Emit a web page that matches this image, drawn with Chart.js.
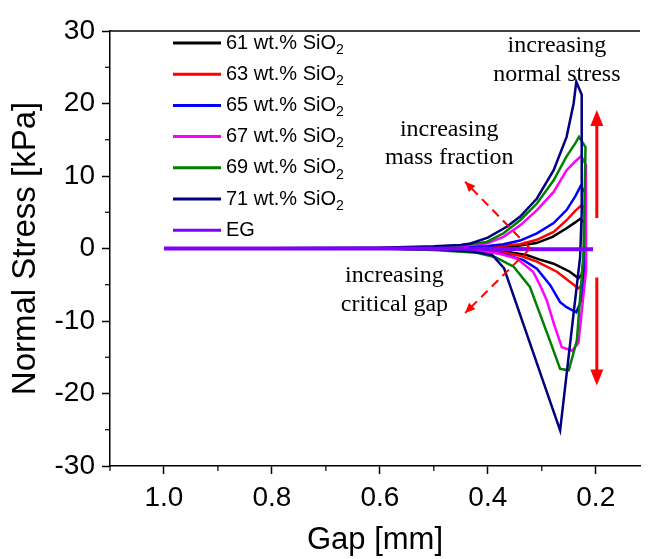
<!DOCTYPE html>
<html>
<head>
<meta charset="utf-8">
<script src="https://cdn.jsdelivr.net/npm/chart.js@4.4.1/dist/chart.umd.min.js"></script>
<style>
    html, body { margin: 0; padding: 0; background: #fff; }
    #wrap { width: 648px; height: 559px; position: relative; }
</style>
</head>
<body>
<div id="wrap"><canvas id="stressChart"></canvas></div>
<script>
// gap [mm] / normal stress [kPa], each curve goes in (gap shrinking) and back out
var gap61 = [1.0, 0.8, 0.6, 0.5, 0.45, 0.4, 0.37, 0.34, 0.31, 0.28, 0.254, 0.238, 0.229, 0.222, 0.222, 0.226, 0.232, 0.248, 0.278, 0.305, 0.328, 0.36, 0.4, 0.5, 0.6];
var stress61 = [0, 0, 0.02, 0.05, 0.1, 0.18, 0.25, 0.4, 0.75, 1.6, 2.8, 3.6, 4.1, 3.6, -1.5, -3.6, -4.1, -3.2, -2.1, -1.5, -0.9, -0.5, -0.25, -0.08, 0];

var gap63 = [1.0, 0.8, 0.6, 0.5, 0.45, 0.4, 0.37, 0.34, 0.309, 0.278, 0.254, 0.238, 0.226, 0.22, 0.22, 0.226, 0.232, 0.248, 0.272, 0.309, 0.34, 0.37, 0.4, 0.5, 0.6];
var stress63 = [0, 0, 0.03, 0.08, 0.15, 0.25, 0.4, 0.6, 1.2, 2.3, 3.9, 5.2, 6.0, 5.4, -2, -5, -5.5, -4.6, -3.2, -1.8, -1.0, -0.6, -0.3, -0.1, 0];

var gap65 = [1.0, 0.8, 0.6, 0.5, 0.45, 0.4, 0.371, 0.34, 0.309, 0.278, 0.254, 0.238, 0.228, 0.22, 0.22, 0.226, 0.236, 0.254, 0.266, 0.284, 0.309, 0.334, 0.37, 0.4, 0.5, 0.6];
var stress65 = [0, 0, 0.04, 0.1, 0.2, 0.35, 0.6, 1.1, 2.1, 3.5, 5.3, 7.2, 8.6, 7.8, -2, -7, -8.8, -8.1, -7.4, -5.1, -2.8, -1.6, -0.8, -0.4, -0.1, 0];

var gap67 = [1.0, 0.8, 0.6, 0.5, 0.45, 0.402, 0.371, 0.34, 0.309, 0.278, 0.254, 0.238, 0.227, 0.218, 0.218, 0.232, 0.244, 0.263, 0.277, 0.291, 0.303, 0.316, 0.346, 0.38, 0.42, 0.5, 0.6];
var stress67 = [0, 0, 0.05, 0.15, 0.35, 0.7, 1.6, 3.2, 5.3, 7.8, 10.8, 12.0, 12.75, 11.5, -3, -13, -14.1, -13.6, -10.5, -7.1, -5.1, -3.2, -1.4, -0.7, -0.3, -0.1, 0];

var gap69 = [1.0, 0.8, 0.6, 0.5, 0.45, 0.402, 0.371, 0.34, 0.309, 0.278, 0.254, 0.238, 0.231, 0.219, 0.222, 0.235, 0.25, 0.266, 0.285, 0.322, 0.352, 0.386, 0.42, 0.5, 0.6];
var stress69 = [0, 0.02, 0.08, 0.2, 0.45, 0.9, 2.1, 3.9, 6.2, 9.4, 12.7, 14.5, 15.4, 14.0, 0, -12.7, -16.8, -16.6, -12.7, -5.3, -2.5, -1.2, -0.6, -0.2, 0];

var gap71 = [1.0, 0.8, 0.6, 0.5, 0.45, 0.432, 0.4, 0.365, 0.34, 0.309, 0.278, 0.254, 0.241, 0.236, 0.226, 0.226, 0.229, 0.266, 0.37, 0.392, 0.408, 0.43, 0.5, 0.6];
var stress71 = [0, 0.02, 0.1, 0.3, 0.5, 0.7, 1.5, 3.0, 4.4, 6.9, 10.8, 15.4, 20.0, 23.0, 21.2, 5, -1.2, -25.1, -2.7, -0.9, -0.7, -0.4, -0.1, 0];

var gapEG = [1.0, 0.8, 0.6, 0.4, 0.3, 0.205];
var stressEG = [0, 0, 0, -0.05, -0.1, -0.1];

var seriesLabels = ['61 wt.% SiO', '63 wt.% SiO', '65 wt.% SiO', '67 wt.% SiO', '69 wt.% SiO', '71 wt.% SiO', 'EG'];
var seriesColors = ['#000000', '#ff0000', '#0000ff', '#ff00ff', '#008000', '#000080', '#7f00ff'];

var xTicks = [1.0, 0.8, 0.6, 0.4, 0.2];
var xMinorTicks = [1.1, 0.9, 0.7, 0.5, 0.3];
var yTicks = [-30, -20, -10, 0, 10, 20, 30];
var yMinorTicks = [-25, -15, -5, 5, 15, 25];

var SANS = "'Liberation Sans', Arial, sans-serif";
var SERIF = "'Liberation Serif', 'Times New Roman', serif";

function toPoints(xs, ys) {
    var pts = [];
    for (var i = 0; i < xs.length; i++) {
        pts.push({ x: xs[i], y: ys[i] });
    }
    return pts;
}

var allGaps = [gap61, gap63, gap65, gap67, gap69, gap71, gapEG];
var allStress = [stress61, stress63, stress65, stress67, stress69, stress71, stressEG];

var datasets = [];
for (var i = 0; i < allGaps.length; i++) {
    var isEG = (i === 6);
    datasets.push({
        label: seriesLabels[i],
        data: toPoints(allGaps[i], allStress[i]),
        borderColor: seriesColors[i],
        backgroundColor: seriesColors[i],
        borderWidth: isEG ? 4 : 2.5,
        pointRadius: 0,
        showLine: true,
        tension: 0,
        order: isEG ? 0 : 7 - i
    });
}

function arrowHead(ctx, x0, y0, x1, y1, len, half) {
    var a = Math.atan2(y1 - y0, x1 - x0);
    ctx.beginPath();
    ctx.moveTo(x1, y1);
    ctx.lineTo(x1 - len * Math.cos(a) + half * Math.sin(a), y1 - len * Math.sin(a) - half * Math.cos(a));
    ctx.lineTo(x1 - len * Math.cos(a) - half * Math.sin(a), y1 - len * Math.sin(a) + half * Math.cos(a));
    ctx.closePath();
    ctx.fill();
}

// frame top line, minor ticks, legend and the red annotations
var extrasPlugin = {
    id: 'extras',
    afterDraw: function(chart) {
        var ctx = chart.ctx;
        var area = chart.chartArea;
        var xs = chart.scales.x;
        var ys = chart.scales.y;
        ctx.save();

        ctx.strokeStyle = '#000';
        ctx.lineWidth = 1.5;
        ctx.beginPath();
        ctx.moveTo(area.left, area.top);
        ctx.lineTo(area.right, area.top);
        ctx.stroke();

        ctx.lineWidth = 1.2;
        xMinorTicks.forEach(function(v) {
            var px = xs.getPixelForValue(v);
            if (px < area.left - 1 || px > area.right) return;
            ctx.beginPath();
            ctx.moveTo(px, area.bottom);
            ctx.lineTo(px, area.bottom + 5);
            ctx.stroke();
        });
        yMinorTicks.forEach(function(v) {
            var py = ys.getPixelForValue(v);
            ctx.beginPath();
            ctx.moveTo(area.left, py);
            ctx.lineTo(area.left - 5, py);
            ctx.stroke();
        });

        // legend
        var lx = area.left + 63;
        var ly = area.top + 12;
        ctx.textBaseline = 'middle';
        ctx.textAlign = 'left';
        for (var i = 0; i < seriesLabels.length; i++) {
            var y = ly + i * 31.2;
            ctx.strokeStyle = seriesColors[i];
            ctx.lineWidth = 3;
            ctx.beginPath();
            ctx.moveTo(lx, y);
            ctx.lineTo(lx + 48, y);
            ctx.stroke();
            ctx.fillStyle = '#000';
            ctx.font = '20px ' + SANS;
            ctx.fillText(seriesLabels[i], lx + 53, y);
            if (i < 6) {
                var w = ctx.measureText(seriesLabels[i]).width;
                ctx.font = '14px ' + SANS;
                ctx.fillText('2', lx + 53 + w, y + 7);
            }
        }

        // annotation text
        ctx.fillStyle = '#000';
        ctx.font = '24px ' + SERIF;
        ctx.textAlign = 'center';
        var notes = [
            ['increasing', 0.272, 28.0], ['normal stress', 0.272, 24.0],
            ['increasing', 0.4715, 16.4], ['mass fraction', 0.4715, 12.5],
            ['increasing', 0.573, -3.7], ['critical gap', 0.573, -7.7]
        ];
        notes.forEach(function(n) {
            ctx.fillText(n[0], xs.getPixelForValue(n[1]), ys.getPixelForValue(n[2]));
        });

        // solid red arrows
        ctx.strokeStyle = '#ff0000';
        ctx.fillStyle = '#ff0000';
        ctx.lineWidth = 3;
        var solid = [[0.198, 4.2, 19.1], [0.198, -4.0, -18.9]];
        solid.forEach(function(s) {
            var px = xs.getPixelForValue(s[0]);
            var y0 = ys.getPixelForValue(s[1]);
            var y1 = ys.getPixelForValue(s[2]);
            var dir = y1 > y0 ? 1 : -1;
            ctx.beginPath();
            ctx.moveTo(px, y0);
            ctx.lineTo(px, y1 - dir * 10);
            ctx.stroke();
            arrowHead(ctx, px, y0, px, y1, 16, 6.5);
        });

        // dashed red arrows
        ctx.lineWidth = 2;
        ctx.setLineDash([9, 6]);
        var dashed = [[0.3216, 0, 0.442, 9.2], [0.3216, 0, 0.442, -8.9]];
        dashed.forEach(function(d) {
            var x0 = xs.getPixelForValue(d[0]), y0 = ys.getPixelForValue(d[1]);
            var x1 = xs.getPixelForValue(d[2]), y1 = ys.getPixelForValue(d[3]);
            ctx.beginPath();
            ctx.moveTo(x0, y0);
            ctx.lineTo(x1, y1);
            ctx.stroke();
            arrowHead(ctx, x0, y0, x1, y1, 10, 4.5);
        });
        ctx.setLineDash([]);

        ctx.restore();
    }
};

var ctx = document.getElementById('stressChart').getContext('2d');
var myChart = new Chart(ctx, {
    type: 'scatter',
    data: { datasets: datasets },
    options: {
        responsive: true,
        maintainAspectRatio: false,
        animation: false,
        layout: { padding: { top: 31, right: 8, left: 0, bottom: 0 } },
        plugins: {
            legend: { display: false },
            tooltip: { enabled: false }
        },
        scales: {
            x: {
                type: 'linear',
                reverse: true,
                min: 0.118,
                max: 1.1,
                afterBuildTicks: function(scale) {
                    scale.ticks = xTicks.map(function(v) { return { value: v }; });
                },
                afterFit: function(scale) { scale.height = 93; },
                grid: { drawOnChartArea: false, tickLength: 8, color: '#000', tickWidth: 1.5 },
                border: { color: '#000', width: 1.5 },
                ticks: {
                    color: '#000',
                    font: { family: SANS, size: 28 },
                    padding: 7,
                    maxRotation: 0,
                    callback: function(v) { return Number(v).toFixed(1); }
                },
                title: {
                    display: true,
                    text: 'Gap [mm]',
                    color: '#000',
                    font: { family: SANS, size: 31 },
                    padding: { top: 0, bottom: 0 }
                }
            },
            y: {
                type: 'linear',
                min: -30,
                max: 30,
                afterBuildTicks: function(scale) {
                    scale.ticks = yTicks.map(function(v) { return { value: v }; });
                },
                afterFit: function(scale) { scale.width = 110; },
                grid: { drawOnChartArea: false, tickLength: 8, color: '#000', tickWidth: 1.5 },
                border: { color: '#000', width: 1.5 },
                ticks: {
                    color: '#000',
                    font: { family: SANS, size: 28 },
                    padding: 7
                },
                title: {
                    display: true,
                    text: 'Normal Stress [kPa]',
                    color: '#000',
                    font: { family: SANS, size: 33 },
                    padding: { top: 6, bottom: 0 }
                }
            }
        }
    },
    plugins: [extrasPlugin]
});
</script>
</body>
</html>
